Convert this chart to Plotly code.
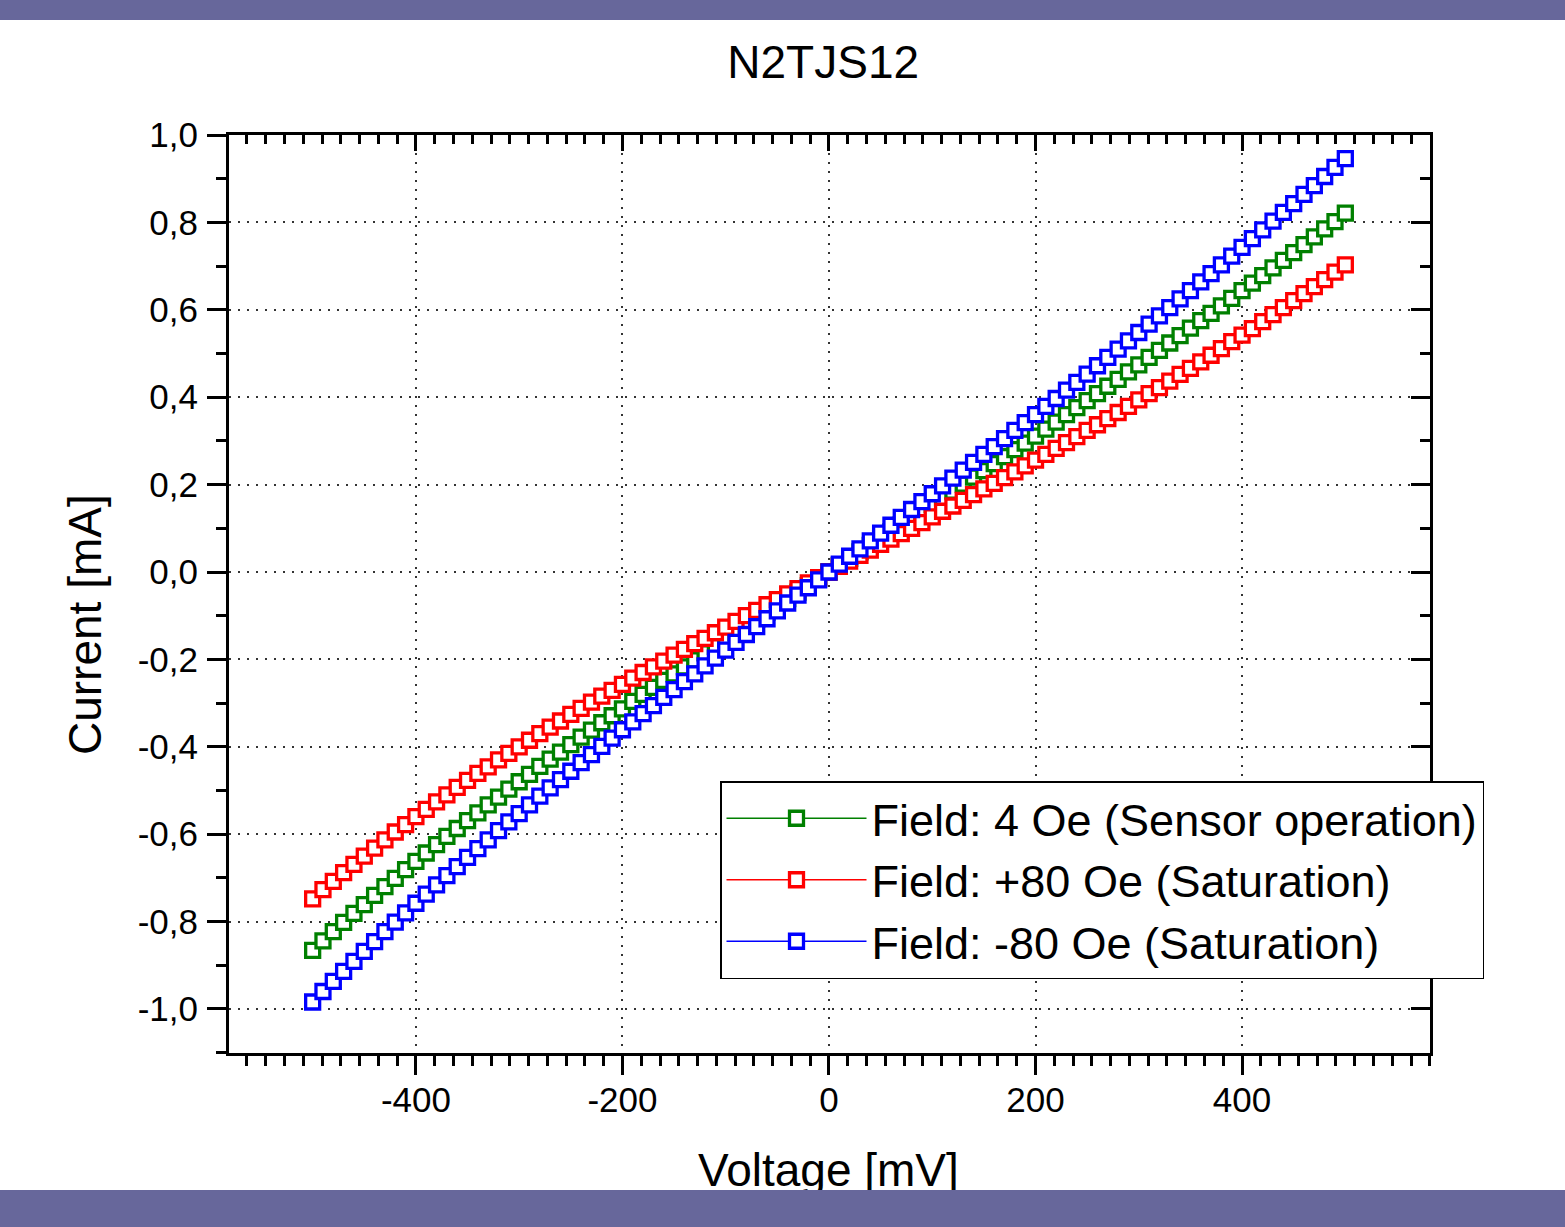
import plotly.graph_objects as go

voltage_mv = list(range(-500, 501, 10))

current_4oe = [
    -0.866, -0.844, -0.823, -0.802, -0.781, -0.761, -0.740, -0.720, -0.701, -0.681,
    -0.662, -0.643, -0.624, -0.605, -0.587, -0.569, -0.551, -0.533, -0.515, -0.497,
    -0.480, -0.463, -0.445, -0.428, -0.412, -0.395, -0.378, -0.362, -0.345, -0.329,
    -0.313, -0.296, -0.280, -0.264, -0.248, -0.233, -0.217, -0.201, -0.185, -0.170,
    -0.154, -0.139, -0.123, -0.108, -0.092, -0.077, -0.061, -0.046, -0.031, -0.015,
    0.000,
    0.015, 0.031, 0.046, 0.061, 0.077, 0.092, 0.108, 0.123, 0.139, 0.154,
    0.170, 0.185, 0.201, 0.217, 0.232, 0.248, 0.264, 0.280, 0.295, 0.311,
    0.327, 0.343, 0.360, 0.376, 0.392, 0.408, 0.425, 0.441, 0.458, 0.474,
    0.491, 0.507, 0.524, 0.541, 0.558, 0.575, 0.592, 0.609, 0.626, 0.644,
    0.661, 0.678, 0.696, 0.713, 0.731, 0.749, 0.767, 0.785, 0.802, 0.821,
]

current_plus80 = [
    -0.748, -0.727, -0.708, -0.688, -0.669, -0.650, -0.632, -0.613, -0.595, -0.578,
    -0.560, -0.543, -0.526, -0.510, -0.493, -0.477, -0.461, -0.446, -0.430, -0.415,
    -0.400, -0.385, -0.370, -0.355, -0.341, -0.326, -0.312, -0.298, -0.284, -0.271,
    -0.257, -0.243, -0.230, -0.217, -0.204, -0.190, -0.177, -0.164, -0.152, -0.139,
    -0.126, -0.113, -0.100, -0.088, -0.075, -0.063, -0.050, -0.038, -0.025, -0.013,
    0.000,
    0.013, 0.025, 0.038, 0.050, 0.063, 0.075, 0.088, 0.100, 0.113, 0.126,
    0.139, 0.151, 0.164, 0.177, 0.190, 0.203, 0.216, 0.229, 0.243, 0.256,
    0.269, 0.283, 0.296, 0.310, 0.324, 0.337, 0.351, 0.365, 0.379, 0.394,
    0.408, 0.422, 0.437, 0.452, 0.466, 0.481, 0.496, 0.511, 0.527, 0.542,
    0.557, 0.573, 0.589, 0.605, 0.621, 0.637, 0.653, 0.669, 0.686, 0.703,
]

current_minus80 = [
    -0.984, -0.960, -0.937, -0.914, -0.891, -0.868, -0.846, -0.823, -0.801, -0.780,
    -0.758, -0.737, -0.716, -0.695, -0.674, -0.653, -0.633, -0.613, -0.592, -0.572,
    -0.553, -0.533, -0.513, -0.494, -0.475, -0.456, -0.436, -0.418, -0.399, -0.380,
    -0.361, -0.343, -0.324, -0.306, -0.287, -0.269, -0.251, -0.233, -0.215, -0.197,
    -0.179, -0.161, -0.143, -0.125, -0.107, -0.089, -0.071, -0.053, -0.036, -0.018,
    0.000,
    0.018, 0.036, 0.053, 0.071, 0.089, 0.107, 0.125, 0.143, 0.161, 0.179,
    0.197, 0.215, 0.233, 0.251, 0.269, 0.287, 0.305, 0.324, 0.342, 0.360,
    0.379, 0.397, 0.416, 0.434, 0.453, 0.472, 0.491, 0.510, 0.529, 0.548,
    0.567, 0.586, 0.605, 0.625, 0.644, 0.664, 0.683, 0.703, 0.723, 0.743,
    0.763, 0.783, 0.803, 0.823, 0.843, 0.864, 0.884, 0.905, 0.926, 0.946,
]

series_names = [
    "Field: 4 Oe (Sensor operation)",
    "Field: +80 Oe (Saturation)",
    "Field: -80 Oe (Saturation)",
]
series_colors = ["#008000", "#FF0000", "#0000FF"]

x_tickvals = [-400, -200, 0, 200, 400]
x_ticktext = ["-400", "-200", "0", "200", "400"]
y_tickvals = [-1.0, -0.8, -0.6, -0.4, -0.2, 0.0, 0.2, 0.4, 0.6, 0.8, 1.0]
y_ticktext = ["-1,0", "-0,8", "-0,6", "-0,4", "-0,2", "0,0", "0,2", "0,4", "0,6", "0,8", "1,0"]

FONT = "Liberation Sans, Arial, Helvetica, sans-serif"
BAND = "#67679B"
X_RANGE = [-581, 582]
Y_RANGE = [-1.1007, 1.0]

fig = go.Figure()
for name, ys, col in zip(series_names, [current_4oe, current_plus80, current_minus80], series_colors):
    fig.add_trace(go.Scatter(
        x=voltage_mv, y=ys, name=name, mode="lines+markers",
        line=dict(color=col, width=1.5),
        marker=dict(symbol="square", size=14, color="white", line=dict(color=col, width=3.3)),
    ))

# empty trace to activate the mirrored tick axes
fig.add_trace(go.Scatter(x=[], y=[], xaxis="x2", yaxis="y2", showlegend=False, hoverinfo="skip"))

tickfont = dict(family=FONT, size=35, color="black")
grid = dict(showgrid=True, gridcolor="#333333", gridwidth=2, griddash="2px,7px")

fig.update_layout(
    width=1565, height=1227,
    margin=dict(l=229, r=135, t=135, b=174),
    paper_bgcolor="white", plot_bgcolor="white",
    font=dict(family=FONT, color="black"),
    showlegend=True,
    title=dict(text="N2TJS12", x=0.526, xref="container", xanchor="center",
               y=1 - 62 / 1227, yref="container", yanchor="middle",
               font=dict(family=FONT, size=46, color="black")),
    xaxis=dict(
        range=X_RANGE, tickmode="array", tickvals=x_tickvals, ticktext=x_ticktext,
        ticks="outside", ticklen=19, tickwidth=3, tickcolor="black",
        showline=True, linewidth=3, linecolor="black", mirror=True,
        zeroline=False, tickfont=tickfont, ticklabelstandoff=-5,
        minor=dict(tickmode="linear", tick0=0, dtick=200 / 11, ticks="outside",
                   ticklen=10, tickwidth=3, tickcolor="black", showgrid=False),
        **grid,
    ),
    yaxis=dict(
        range=Y_RANGE, tickmode="array", tickvals=y_tickvals, ticktext=y_ticktext,
        ticks="outside", ticklen=19, tickwidth=3, tickcolor="black",
        showline=True, linewidth=3, linecolor="black", mirror=True,
        zeroline=False, tickfont=tickfont, ticklabelstandoff=2,
        minor=dict(tickmode="linear", tick0=0, dtick=0.1, ticks="outside",
                   ticklen=10, tickwidth=3, tickcolor="black", showgrid=False),
        **grid,
    ),
    xaxis2=dict(
        overlaying="x", side="top", anchor="y", range=X_RANGE,
        tickmode="array", tickvals=x_tickvals, showticklabels=False,
        ticks="inside", ticklen=16, tickwidth=3, tickcolor="black",
        showgrid=False, zeroline=False, showline=False,
        minor=dict(tickmode="linear", tick0=0, dtick=200 / 11, ticks="inside",
                   ticklen=9, tickwidth=3, tickcolor="black", showgrid=False),
    ),
    yaxis2=dict(
        overlaying="y", side="right", anchor="x", range=Y_RANGE,
        tickmode="array", tickvals=y_tickvals, showticklabels=False,
        ticks="inside", ticklen=19, tickwidth=3, tickcolor="black",
        showgrid=False, zeroline=False, showline=False,
        minor=dict(tickmode="linear", tick0=0, dtick=0.1, ticks="inside",
                   ticklen=10, tickwidth=3, tickcolor="black", showgrid=False),
    ),
    legend=dict(
        x=(720 - 229) / 1201, y=(1053 - 781) / 918, xanchor="left", yanchor="top",
        bgcolor="white", bordercolor="black", borderwidth=1.5,
        font=dict(family=FONT, size=45, color="black"),
        itemwidth=140, tracegroupgap=0,
    ),
    shapes=[
        dict(type="rect", xref="paper", yref="paper",
             x0=-0.2, x1=1.13, y0=1 + 115 / 918, y1=1 + 140 / 918,
             fillcolor=BAND, line=dict(width=0), layer="above"),
    ],
    annotations=[
        dict(text="Voltage [mV]", xref="paper", yref="paper",
             x=(828 - 229) / 1201, y=-(1170 - 1053) / 918,
             xanchor="center", yanchor="middle", showarrow=False,
             font=dict(family=FONT, size=46, color="black")),
        dict(text="Current [mA]", xref="paper", yref="paper",
             x=(85 - 229) / 1201, y=(1053 - 625) / 918, textangle=-90,
             xanchor="center", yanchor="middle", showarrow=False,
             font=dict(family=FONT, size=46, color="black")),
        dict(text=" ", xref="paper", yref="paper",
             x=(782.5 - 229) / 1201, y=-(1208.5 - 1053) / 918,
             xanchor="center", yanchor="middle", showarrow=False,
             width=1600, height=37, bgcolor=BAND, borderpad=0, borderwidth=0,
             font=dict(size=10)),
    ],
)

fig.write_html("out.html")
